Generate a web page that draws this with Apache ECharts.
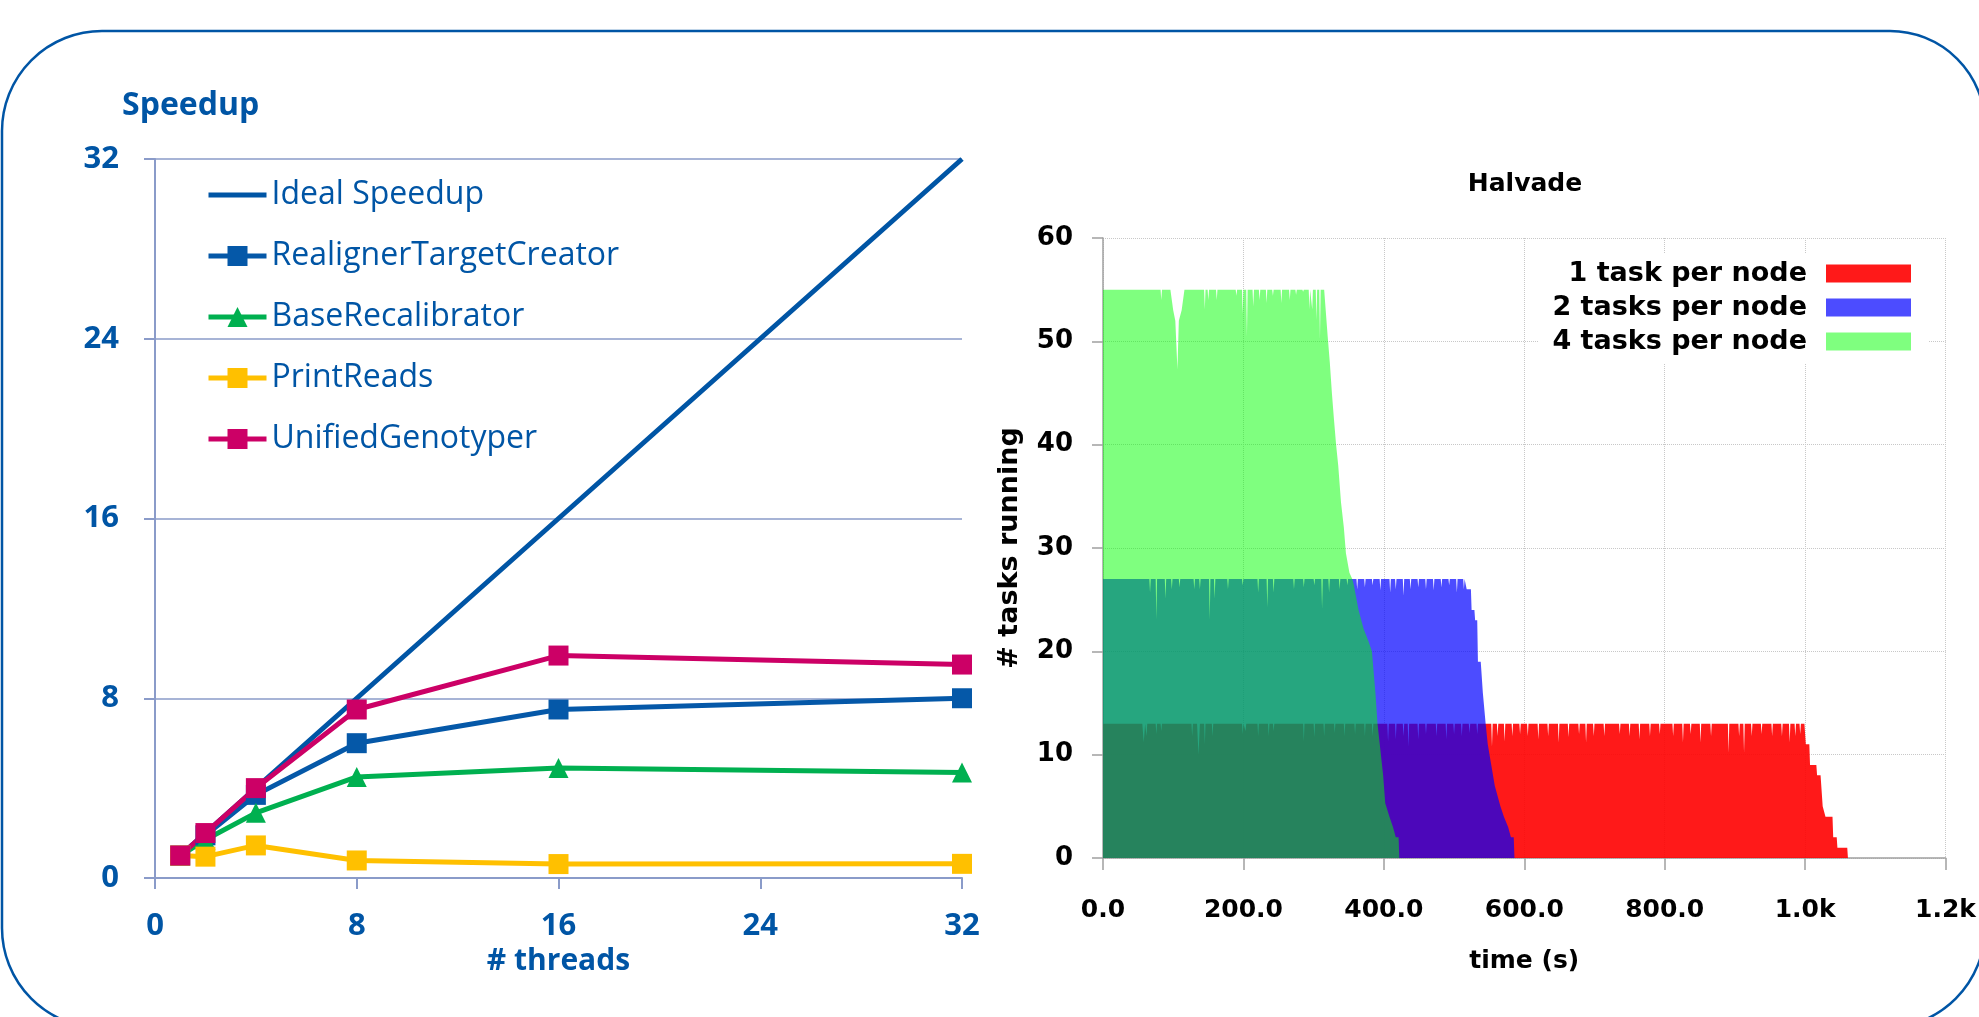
<!DOCTYPE html>
<html>
<head>
<meta charset="utf-8">
<title>Speedup / Halvade</title>
<script src="https://cdn.jsdelivr.net/npm/echarts@6/dist/echarts.min.js"></script>
<style>
    html, body {margin: 0; padding: 0; background: #fff;}
    #chart {width: 1979px; height: 1017px;}
</style>
</head>
<body>
<div id="chart"></div>
<script>
// left panel: speedup vs threads
const threads = [1, 2, 4, 8, 16, 32];
const idealSpeedup = [1, 2, 4, 8, 16, 32];
const realignerTargetCreator = [1.0, 1.9, 3.7, 6.0, 7.5, 8.0];
const baseRecalibrator = [1.0, 1.7, 2.9, 4.5, 4.9, 4.7];
const printReads = [1.0, 0.95, 1.45, 0.78, 0.62, 0.63];
const unifiedGenotyper = [1.0, 2.0, 4.0, 7.5, 9.9, 9.5];
const threadTicks = [0, 8, 16, 24, 32];
const speedupTicks = [0, 8, 16, 24, 32];

// right panel: Halvade tasks running over time, [time (s), tasks]
const oneTaskPerNode = [
    [0, 13], [56, 13], [58, 11.2], [60, 13], [61, 13], [62, 11.8], [63, 13], [75, 13], [76, 12], [77, 13],
    [82, 13], [83, 12.3], [84, 13], [126, 13], [127, 11.8], [128, 13], [134, 13], [136, 10], [138, 13],
    [144, 13], [145, 11], [146, 13], [155, 13], [156, 11.8], [157, 13], [198, 13], [199, 12], [200, 13],
    [202, 13], [203, 12.3], [204, 13], [220, 13], [221, 11.8], [222, 13], [235, 13], [236, 11.8], [237, 13],
    [242, 13], [243, 12.3], [244, 13], [285, 13], [286, 11.3], [287, 13], [300, 13], [301, 11.7], [302, 13],
    [314, 13], [315, 11.8], [316, 13], [329, 13], [330, 12.1], [331, 13], [343, 13], [344, 11.8], [345, 13],
    [358, 13], [359, 12], [360, 13], [372, 13], [373, 11.8], [374, 13], [383, 13], [384, 11.8], [385, 13],
    [405, 13], [406, 11.3], [407, 13], [416, 13], [417, 11.5], [418, 13], [427, 13], [428, 11.8], [429, 13],
    [434, 13], [435, 10.8], [436, 13], [448, 13], [449, 11.5], [450, 13], [459, 13], [460, 12], [461, 13],
    [474, 13], [475, 11.8], [476, 13], [488, 13], [489, 11.5], [490, 13], [499, 13], [500, 12], [501, 13],
    [510, 13], [511, 11.8], [512, 13], [521, 13], [522, 12.1], [523, 13], [532, 13], [533, 12], [534, 13],
    [553, 13], [554, 10.8], [555, 13], [561, 13], [562, 11.8], [563, 13], [571, 13], [572, 11.3], [573, 13],
    [582, 13], [583, 11.8], [584, 13], [593, 13], [594, 12], [595, 13], [604, 13], [605, 11.8], [606, 13],
    [619, 13], [620, 11.5], [621, 13], [633, 13], [634, 11.8], [635, 13], [648, 13], [649, 11.2], [650, 13],
    [662, 13], [663, 11.7], [664, 13], [677, 13], [678, 12], [679, 13], [687, 13], [688, 11.2], [689, 13],
    [698, 13], [699, 11.8], [700, 13], [713, 13], [714, 11.8], [715, 13], [735, 13], [736, 12], [737, 13],
    [749, 13], [750, 11.8], [751, 13], [763, 13], [764, 11.5], [765, 13], [778, 13], [779, 11.8], [780, 13],
    [792, 13], [793, 12], [794, 13], [811, 13], [812, 11.8], [813, 13], [825, 13], [826, 11.2], [827, 13],
    [836, 13], [837, 12], [838, 13], [850, 13], [851, 11.2], [852, 13], [865, 13], [866, 11.8], [867, 13],
    [890, 13], [891, 10.2], [892, 13], [905, 13], [906, 11.8], [907, 13], [912, 13], [913, 10.2], [914, 13],
    [923, 13], [924, 11.8], [925, 13], [937, 13], [938, 12], [939, 13], [952, 13], [953, 11.8], [954, 13],
    [966, 13], [967, 11.8], [968, 13], [977, 13], [978, 11.2], [979, 13], [985, 13], [986, 11.8], [987, 13],
    [992, 13], [993, 12], [994, 13], [999, 13], [1001, 11], [1006, 11], [1007, 9], [1016, 9], [1017, 8],
    [1022, 8], [1025, 5], [1029, 4], [1039, 4], [1040, 2], [1045, 2], [1046, 1], [1060, 1], [1061, 0]
];
const twoTasksPerNode = [
    [0, 27], [66, 27], [67, 25.7], [68, 27], [75, 27], [76, 23.1], [77, 27], [88, 27], [89, 25.1], [90, 27],
    [97, 27], [98, 26], [99, 27], [108, 27], [109, 26.2], [110, 27], [129, 27], [130, 26], [131, 27],
    [137, 27], [138, 26], [139, 27], [151, 27], [152, 23.1], [153, 27], [158, 27], [159, 25.1], [160, 27],
    [177, 27], [178, 26], [179, 27], [198, 27], [199, 26.4], [200, 27], [220, 27], [221, 25.7], [222, 27],
    [233, 27], [234, 24.3], [235, 27], [242, 27], [243, 25.7], [244, 27], [271, 27], [272, 26], [273, 27],
    [285, 27], [286, 26.2], [287, 27], [300, 27], [301, 26.4], [302, 27], [311, 27], [312, 24.1], [313, 27],
    [321, 27], [322, 25.7], [323, 27], [336, 27], [337, 26], [338, 27], [347, 27], [348, 26.4], [349, 27],
    [361, 27], [362, 26], [363, 27], [372, 27], [373, 26.2], [374, 27], [383, 27], [384, 26.4], [385, 27],
    [394, 27], [395, 25.9], [396, 27], [408, 27], [409, 25.7], [410, 27], [416, 27], [417, 26], [418, 27],
    [427, 27], [428, 25.4], [429, 27], [437, 27], [438, 26], [439, 27], [448, 27], [449, 26.2], [450, 27],
    [459, 27], [460, 26], [461, 27], [470, 27], [471, 25.9], [472, 27], [481, 27], [482, 26.2], [483, 27],
    [492, 27], [493, 26.4], [494, 27], [503, 27], [504, 25.7], [505, 27], [513, 27], [514, 26], [515, 27],
    [516, 27], [518, 26], [524, 26], [525, 24], [529, 24], [530, 23], [533, 23], [534, 19], [538, 19],
    [539, 18], [541, 16], [545, 13], [548, 11], [553, 9], [558, 7], [566, 5], [571, 4], [577, 3], [581, 2],
    [585, 2], [586, 0]
];
const fourTasksPerNode = [
    [0, 55], [82, 55], [83, 54], [84, 55], [96, 55], [100, 53], [103, 52], [106, 47.3], [108, 52],
    [112, 53], [116, 55], [144, 55], [145, 53.1], [146, 55], [149, 55], [150, 54], [151, 55], [161, 55],
    [162, 54], [163, 55], [189, 55], [190, 54.4], [191, 55], [198, 55], [199, 52.7], [200, 55], [204, 55],
    [205, 50.5], [206, 55], [213, 55], [214, 53.4], [215, 55], [222, 55], [223, 54], [224, 55], [232, 55],
    [233, 53.7], [234, 55], [241, 55], [242, 54.4], [243, 55], [253, 55], [254, 53.7], [255, 55], [265, 55],
    [266, 54], [267, 55], [274, 55], [275, 54.5], [276, 55], [284, 55], [285, 54.8], [286, 55], [293, 55],
    [294, 53.1], [295, 55], [297, 55], [298, 53.1], [299, 55], [303, 55], [304, 52.1], [305, 55], [308, 55],
    [309, 50.2], [310, 55], [315, 55], [320, 50.5], [323, 48], [326, 45], [329, 42.4], [332, 40], [335, 38],
    [339, 34.4], [343, 32], [346, 29.5], [351, 27.6], [355, 27], [357, 26.5], [364, 24], [371, 22.2],
    [378, 21], [383, 20], [388, 16], [391, 13], [395, 10.5], [399, 8], [402, 5.3], [408, 4], [413, 3],
    [417, 2], [421, 2], [422, 0]
];
const timeTicks = [0, 200, 400, 600, 800, 1000, 1200];
const timeLabels = ['0.0', '200.0', '400.0', '600.0', '800.0', '1.0k', '1.2k'];
const taskTicks = [0, 10, 20, 30, 40, 50, 60];

const BLUE = '#0055a5';
const LEFT_AXIS = '#8a9bc9';
const leftFont = 'Open Sans';
const rightFont = 'DejaVu Sans';

function pairs(xs, ys) {
    return xs.map(function (x, i) {
        return [x, ys[i]];
    });
}

function speedupSeries(name, values, color, symbol) {
    return {
        type: 'line',
        name: name,
        xAxisIndex: 0,
        yAxisIndex: 0,
        data: pairs(threads, values),
        symbol: symbol,
        symbolSize: 20,
        showAllSymbol: true,
        lineStyle: {color: color, width: 5},
        itemStyle: {color: color},
        animation: false
    };
}

function taskSeries(name, data, color) {
    return {
        type: 'line',
        name: name,
        xAxisIndex: 1,
        yAxisIndex: 1,
        data: data,
        symbol: 'none',
        lineStyle: {width: 0},
        areaStyle: {color: color, opacity: 1},
        itemStyle: {color: color},
        silent: true,
        animation: false
    };
}

const myChart = echarts.init(document.getElementById('chart'));

const option = {
    backgroundColor: '#fff',
    animation: false,
    title: [{
        text: 'Speedup',
        left: 122,
        top: 90,
        padding: 0,
        textStyle: {fontFamily: leftFont, fontWeight: 'bold', fontSize: 32, color: BLUE}
    }, {
        text: 'Halvade',
        left: 1525,
        top: 172,
        textAlign: 'center',
        padding: 0,
        textStyle: {fontFamily: rightFont, fontWeight: 'bold', fontSize: 25, color: '#000'}
    }],
    legend: [{
        data: [
            {name: 'Ideal Speedup', icon: 'path://M0,0H58V5H0Z'},
            'RealignerTargetCreator', 'BaseRecalibrator', 'PrintReads', 'UnifiedGenotyper'
        ],
        orient: 'vertical',
        left: 206,
        top: 179,
        itemWidth: 58,
        itemHeight: 25,
        itemGap: 29,
        padding: 0,
        lineStyle: {width: 5},
        textStyle: {fontFamily: leftFont, fontSize: 32, color: BLUE}
    }, {
        data: ['1 task per node', '2 tasks per node', '4 tasks per node'],
        orient: 'vertical',
        align: 'right',
        right: 50,
        top: 254,
        icon: 'rect',
        itemWidth: 85,
        itemHeight: 18,
        itemGap: 7,
        padding: [6, 18, 8, 14],
        backgroundColor: '#fff',
        textStyle: {fontFamily: rightFont, fontWeight: 'bold', fontSize: 27, color: '#000', padding: [0, 14, 0, 0]}
    }],
    grid: [{
        left: 155, right: 1979 - 962, top: 159, bottom: 1017 - 878, containLabel: false
    }, {
        left: 1103, right: 1979 - 1947, top: 238, bottom: 1017 - 858, containLabel: false
    }],
    xAxis: [{
        type: 'value',
        gridIndex: 0,
        min: threadTicks[0],
        max: threadTicks[threadTicks.length - 1],
        interval: 8,
        name: '# threads',
        nameLocation: 'middle',
        nameGap: 66,
        nameTextStyle: {fontFamily: leftFont, fontWeight: 'bold', fontSize: 30, color: BLUE},
        axisLine: {lineStyle: {color: LEFT_AXIS, width: 2}},
        axisTick: {show: true, length: 11, lineStyle: {color: LEFT_AXIS, width: 2}},
        axisLabel: {margin: 33, fontFamily: leftFont, fontWeight: 'bold', fontSize: 31, color: BLUE},
        splitLine: {show: false}
    }, {
        type: 'value',
        gridIndex: 1,
        min: timeTicks[0],
        max: timeTicks[timeTicks.length - 1],
        interval: 200,
        name: 'time (s)',
        nameLocation: 'middle',
        nameGap: 91,
        nameTextStyle: {fontFamily: rightFont, fontWeight: 'bold', fontSize: 25, color: '#000'},
        axisLine: {lineStyle: {color: '#a0a0a0', width: 1.5}},
        axisTick: {show: true, length: 12, lineStyle: {color: '#a0a0a0', width: 1.5}},
        axisLabel: {
            margin: 40, fontFamily: rightFont, fontWeight: 'bold', fontSize: 25, color: '#000',
            formatter: function (v) {
                const i = timeTicks.indexOf(v);
                return i >= 0 ? timeLabels[i] : '';
            }
        },
        splitLine: {show: true, lineStyle: {color: '#c8c8c8', type: 'dotted', width: 1}}
    }],
    yAxis: [{
        type: 'value',
        gridIndex: 0,
        min: speedupTicks[0],
        max: speedupTicks[speedupTicks.length - 1],
        interval: 8,
        axisLine: {show: true, lineStyle: {color: LEFT_AXIS, width: 2}},
        axisTick: {show: true, length: 11, lineStyle: {color: LEFT_AXIS, width: 2}},
        axisLabel: {margin: 36, fontFamily: leftFont, fontWeight: 'bold', fontSize: 31, color: BLUE},
        splitLine: {show: true, lineStyle: {color: LEFT_AXIS, width: 1.5}}
    }, {
        type: 'value',
        gridIndex: 1,
        min: taskTicks[0],
        max: taskTicks[taskTicks.length - 1],
        interval: 10,
        name: '# tasks running',
        nameLocation: 'middle',
        nameGap: 80,
        nameRotate: 90,
        nameTextStyle: {fontFamily: rightFont, fontWeight: 'bold', fontSize: 27, color: '#000'},
        axisLine: {show: true, lineStyle: {color: '#a0a0a0', width: 1.5}},
        axisTick: {show: true, length: 11, lineStyle: {color: '#a0a0a0', width: 1.5}},
        axisLabel: {margin: 30, fontFamily: rightFont, fontWeight: 'bold', fontSize: 26, color: '#000'},
        splitLine: {show: true, lineStyle: {color: '#c8c8c8', type: 'dotted', width: 1}}
    }],
    graphic: [{
        type: 'rect',
        silent: true,
        z: -1,
        shape: {x: 2, y: 31, width: 1983, height: 997, r: [100, 95, 100, 100]},
        style: {fill: 'none', stroke: BLUE, lineWidth: 2.5}
    }],
    series: [
        {
            type: 'line',
            name: 'Ideal Speedup',
            xAxisIndex: 0,
            yAxisIndex: 0,
            data: pairs(threads, idealSpeedup),
            symbol: 'none',
            lineStyle: {color: BLUE, width: 5},
            itemStyle: {color: BLUE},
            animation: false
        },
        speedupSeries('RealignerTargetCreator', realignerTargetCreator, '#0558a8', 'rect'),
        speedupSeries('BaseRecalibrator', baseRecalibrator, '#00b050', 'triangle'),
        speedupSeries('PrintReads', printReads, '#ffc000', 'rect'),
        speedupSeries('UnifiedGenotyper', unifiedGenotyper, '#cc0066', 'rect'),
        taskSeries('1 task per node', oneTaskPerNode, 'rgba(255,0,0,0.9)'),
        taskSeries('2 tasks per node', twoTasksPerNode, 'rgba(0,0,255,0.7)'),
        taskSeries('4 tasks per node', fourTasksPerNode, 'rgba(0,255,0,0.5)')
    ]
};

myChart.setOption(option);
</script>
</body>
</html>
